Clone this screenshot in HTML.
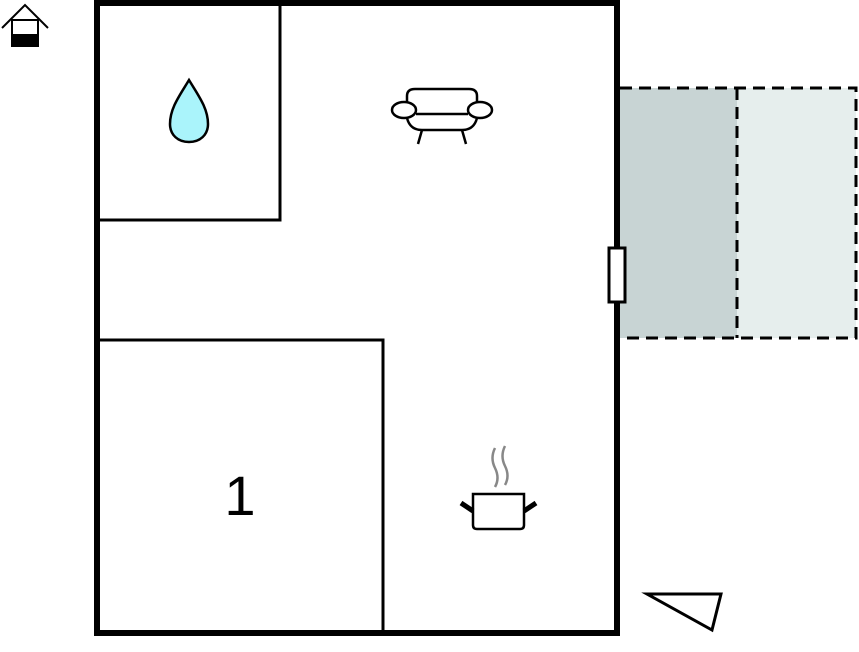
<!DOCTYPE html>
<html><head><meta charset="utf-8"><style>html,body{margin:0;padding:0;background:#fff}svg{display:block}</style></head>
<body>
<svg width="859" height="652" viewBox="0 0 859 652" xmlns="http://www.w3.org/2000/svg">
<rect x="620" y="88" width="117" height="250" fill="#c8d4d4"/>
<rect x="737" y="88" width="119" height="250" fill="#e6eeed"/>
<g fill="none" stroke="#000" stroke-width="3" stroke-dasharray="12,7">
<path d="M620 88 H856 V338 H620"/>
<path d="M737 88 V338"/>
</g>
<rect x="97" y="3" width="520" height="630" fill="none" stroke="#000" stroke-width="6"/>
<rect x="97" y="3" width="183" height="217" fill="none" stroke="#000" stroke-width="3"/>
<rect x="97" y="340" width="286" height="293" fill="none" stroke="#000" stroke-width="3"/>
<rect x="609" y="248" width="16" height="54" fill="#fff" stroke="#000" stroke-width="3"/>
<text x="240" y="515" font-family="Liberation Sans, sans-serif" font-size="56" text-anchor="middle">1</text>
<path d="M189 80 C180 95 170 108 170 124 C170 135 178 142 189 142 C200 142 208 135 208 124 C208 108 198 95 189 80 Z" fill="#aaf4fb" stroke="#000" stroke-width="2.5"/>
<g fill="none" stroke="#000" stroke-width="2.5">
<path d="M407 103 V96 Q407 89 415 89 H469 Q477 89 477 96 V103"/>
<ellipse cx="404" cy="110" rx="12" ry="8" fill="#fff"/>
<ellipse cx="480" cy="110" rx="12" ry="8" fill="#fff"/>
<path d="M416 114 H468"/>
<path d="M407 118 Q410 130 422 130 H462 Q474 130 477 118"/>
<path d="M422 130 L418 144 M462 130 L466 144"/>
</g>
<g fill="none" stroke="#888" stroke-width="2.5">
<path d="M495 448 Q490 458 495 468 Q500 478 495 487"/>
<path d="M505 446 Q500 456 505 466 Q510 476 505 485"/>
</g>
<g fill="none" stroke="#000" stroke-width="2.5">
<path d="M473 494 H524 V525 Q524 529 520 529 H477 Q473 529 473 525 Z" fill="#fff"/>
<path d="M473 511 L461 503 M524 511 L536 503" stroke-width="5"/>
</g>
<polygon points="647,594 721,594 712,630" fill="#fff" stroke="#000" stroke-width="3"/>
<g>
<path d="M2 28 L25 5 L48 28" fill="none" stroke="#000" stroke-width="2"/>
<rect x="12" y="20" width="26" height="26" fill="#fff" stroke="#000" stroke-width="2"/>
<rect x="12" y="34" width="26" height="13" fill="#000"/>
</g>
</svg>
</body></html>
